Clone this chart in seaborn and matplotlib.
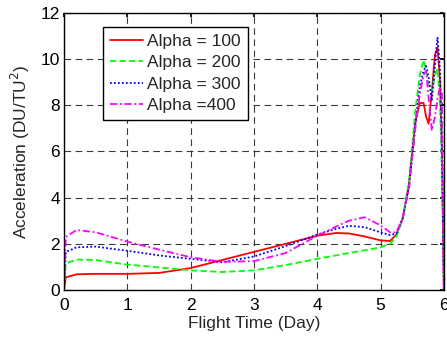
import numpy as np
import pandas as pd
import matplotlib
matplotlib.use("Agg")
import matplotlib.pyplot as plt
import seaborn as sns

# Flight time samples (days)
days = [0.0, 0.03, 0.2, 0.5, 1.0, 1.5, 2.0, 2.5, 3.0, 3.5, 4.0, 4.3, 4.5, 4.75,
        5.0, 5.15, 5.25, 5.35, 5.45, 5.55, 5.62, 5.68, 5.72, 5.76, 5.81, 5.86,
        5.9, 5.94, 5.97, 5.99, 6.0]

# Acceleration (DU/TU^2) for each weighting value
alpha_100 = [0.0, 0.55, 0.68, 0.7, 0.7, 0.74, 0.95, 1.3, 1.65, 2.0, 2.35, 2.47, 2.45, 2.32,
             2.15, 2.12, 2.4, 3.1, 4.6, 7.3, 8.1, 8.1, 7.5, 7.2, 8.6, 10.2,
             10.5, 9.0, 6.0, 2.0, 0.0]
alpha_200 = [0.0, 1.15, 1.32, 1.3, 1.1, 0.98, 0.85, 0.78, 0.85, 1.08, 1.35, 1.5, 1.6, 1.72,
             1.85, 2.0, 2.3, 3.1, 4.7, 7.8, 9.3, 9.96, 9.5, 8.9, 8.6, 9.3,
             9.6, 8.0, 5.0, 2.0, 0.0]
alpha_300 = [0.0, 1.65, 1.85, 1.88, 1.7, 1.5, 1.35, 1.2, 1.45, 1.9, 2.4, 2.65, 2.78, 2.72,
             2.5, 2.38, 2.45, 3.1, 4.5, 7.2, 8.8, 9.5, 9.7, 9.2, 8.2, 9.8,
             10.95, 9.5, 6.0, 2.0, 0.0]
alpha_400 = [0.0, 2.3, 2.6, 2.5, 2.1, 1.75, 1.42, 1.22, 1.25, 1.6, 2.35, 2.75, 3.0, 3.15,
             2.8, 2.5, 2.5, 3.1, 4.4, 7.0, 8.5, 9.3, 9.5, 8.3, 6.9, 7.5,
             8.3, 8.8, 8.5, 3.0, 0.0]

labels = ["Alpha = 100", "Alpha = 200", "Alpha = 300", "Alpha =400"]
series = [alpha_100, alpha_200, alpha_300, alpha_400]
colors = ["#ff0000", "#00ff00", "#0000ff", "#ff00ff"]
styles = ["-", (0, (3.5, 1.8)), (0, (1, 1.2)), (0, (4, 1.5, 1, 1.5))]

frames = [pd.DataFrame({"day": days, "acc": vals, "case": lab})
          for lab, vals in zip(labels, series)]
data = pd.concat(frames, ignore_index=True)

sns.set_theme(style="white")
plt.rcParams["font.family"] = ["Liberation Sans", "DejaVu Sans"]

fs = 12.5
fig = plt.figure(figsize=(4.47, 3.40), dpi=100)
ax = fig.add_axes([0.143, 0.147, 0.850, 0.815])

for lab, col, ls in zip(labels, colors, styles):
    sns.lineplot(data=data[data["case"] == lab], x="day", y="acc", ax=ax,
                 color=col, linestyle=ls, linewidth=1.3, label=lab,
                 estimator=None, sort=False)

ax.set_xlim(0, 6)
ax.set_ylim(0, 12)
ax.set_xticks(range(0, 7))
ax.set_yticks(range(0, 13, 2))
ax.grid(True, color="#3a3a3a", linestyle=(0, (6, 4)), linewidth=0.8)
ax.tick_params(axis="x", direction="in", top=True, length=3,
               labelsize=fs, colors="black", pad=6)
ax.tick_params(axis="y", direction="in", right=True, length=3,
               labelsize=fs, colors="black", pad=3)
for sp in ax.spines.values():
    sp.set_color("black")
    sp.set_linewidth(1.0)

ax.set_xlabel("Flight Time (Day)", fontsize=fs, labelpad=2)
ax.set_ylabel("Acceleration (DU/TU$^2$)", fontsize=fs, labelpad=6)

leg = ax.legend(loc="upper left", bbox_to_anchor=(0.103, 0.95), fontsize=fs,
                frameon=True, fancybox=False, edgecolor="black",
                handlelength=1.9, handletextpad=0.25, borderpad=0.4,
                labelspacing=0.36, borderaxespad=0)
leg.get_frame().set_linewidth(1.0)
leg.get_frame().set_alpha(1)

fig.savefig("out.png", dpi=100)
